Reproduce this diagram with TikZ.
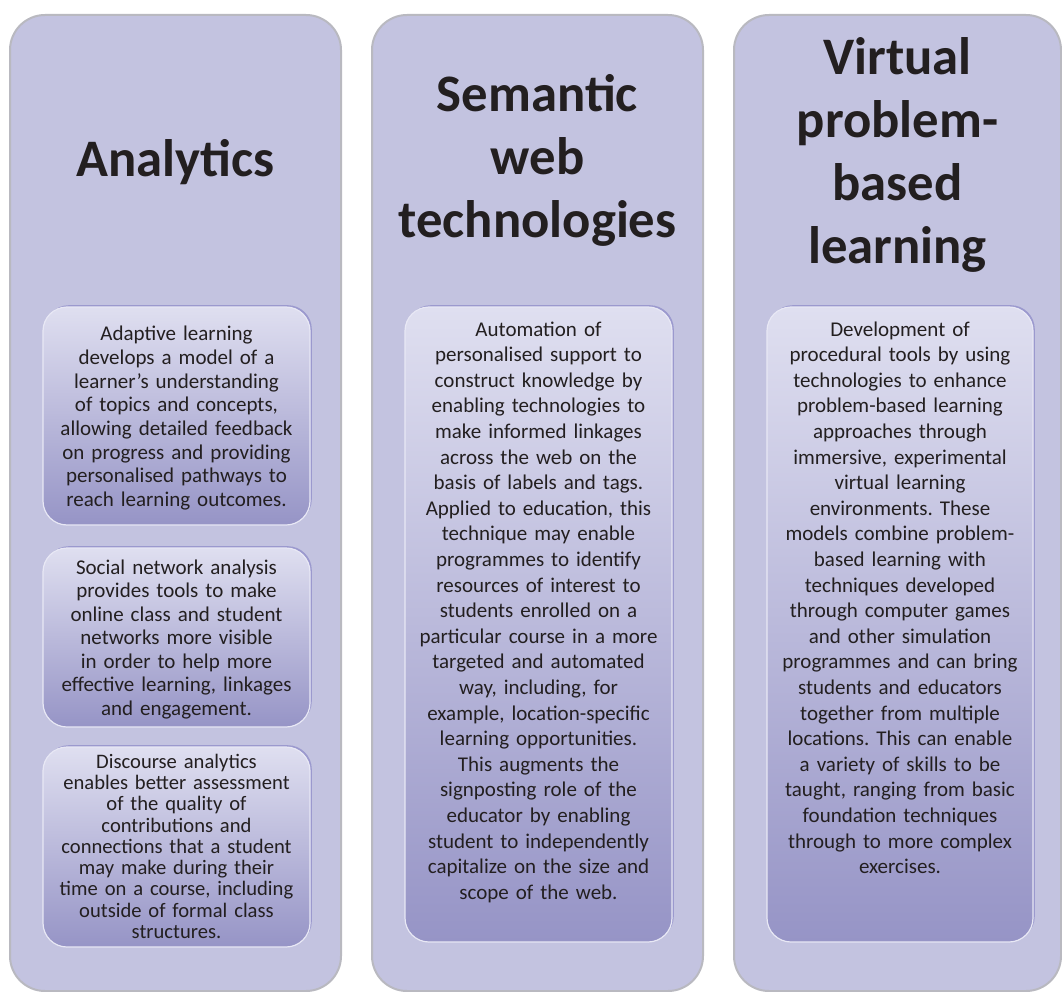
\documentclass[tikz,border=0pt]{standalone}
\usepackage{fontspec}
\setmainfont{Carlito}
\definecolor{outerfill}{RGB}{195,195,224}
\definecolor{outerline}{RGB}{185,185,192}
\definecolor{innertop}{RGB}{223,223,240}
\definecolor{innerbot}{RGB}{150,148,198}
\definecolor{innerlight}{RGB}{232,232,245}
\definecolor{inneredgec}{RGB}{155,153,206}
\definecolor{txt}{RGB}{35,31,32}
\frenchspacing
\begin{document}
\begin{tikzpicture}[x=1pt,y=-1pt,
  outerbox/.style={draw=outerline, line width=2pt, fill=outerfill, rounded corners=35pt},
  innerbox/.style={draw=innerlight, line width=1.2pt, top color=innertop, bottom color=innerbot, rounded corners=24pt},
  inneredge/.style={fill=inneredgec, rounded corners=24pt},
  title/.style={text width=320pt, align=center, anchor=base, inner sep=0pt, text=txt,
    font=\bfseries\fontsize{52.7}{63}\selectfont},
  body/.style={text width=300pt, align=center, anchor=base, inner sep=0pt, text=txt,
    font=\fontsize{21}{25.6}\selectfont}]
\useasboundingbox (0,0) rectangle (1062,992);
% outer columns
\draw[outerbox] (10,15) rectangle (341,991);
\draw[outerbox] (372,15) rectangle (703,991);
\draw[outerbox] (734,15) rectangle (1061,991);
% inner boxes
\fill[inneredge] (44.8,305.2) rectangle (311.8,523.2);
\draw[innerbox] (43,307) rectangle (310,525);
\fill[inneredge] (44.8,546.2) rectangle (311.8,725.2);
\draw[innerbox] (43,548) rectangle (310,727);
\fill[inneredge] (44.8,745.2) rectangle (311.8,945.2);
\draw[innerbox] (43,747) rectangle (310,947);
\fill[inneredge] (406.8,305.2) rectangle (673.8,940.2);
\draw[innerbox] (405,307) rectangle (672,942);
\fill[inneredge] (768.8,305.2) rectangle (1034.8,940.2);
\draw[innerbox] (767,307) rectangle (1033,942);
% titles
\node[title] (t1) at (175.5,177) {Analytics};
\node[title] (t2) at (537.5,112) {Semantic\\web\\technologies};
\node[title] (t3) at (897.5,75) {Virtual\\problem-\\based\\learning};
% body texts
\node[body, font=\fontsize{21}{23.7}\selectfont] (a1) at (176.5,340.7) {Adaptive learning\\develops a model of a\\learner’s understanding\\of topics and concepts,\\allowing detailed feedback\\on progress and providing\\personalised pathways to\\reach learning outcomes.};
\node[body, font=\fontsize{21}{23.5}\selectfont] (a2) at (176.5,574) {Social network analysis\\provides tools to make\\online class and student\\networks more visible\\in order to help more\\effective learning, linkages\\and engagement.};
\node[body, font=\fontsize{20.6}{21.25}\selectfont] (a3) at (176.5,768.3) {Discourse analytics\\enables better assessment\\of the quality of\\contributions and\\connections that a student\\may make during their\\time on a course, including\\outside of formal class\\structures.};
\node[body] (s1) at (538.5,336) {Automation of\\personalised support to\\construct knowledge by\\enabling technologies to\\make informed linkages\\across the web on the\\basis of labels and tags.\\Applied to education, this\\technique may enable\\programmes to identify\\resources of interest to\\students enrolled on a\\particular course in a more\\targeted and automated\\way, including, for\\example, location-specific\\learning opportunities.\\This augments the\\signposting role of the\\educator by enabling\\student to independently\\capitalize on the size and\\scope of the web.};
\node[body] (v1) at (900,336) {Development of\\procedural tools by using\\technologies to enhance\\problem-based learning\\approaches through\\immersive, experimental\\virtual learning\\environments. These\\models combine problem-\\based learning with\\techniques developed\\through computer games\\and other simulation\\programmes and can bring\\students and educators\\together from multiple\\locations. This can enable\\a variety of skills to be\\taught, ranging from basic\\foundation techniques\\through to more complex\\exercises.};
\end{tikzpicture}
\end{document}
